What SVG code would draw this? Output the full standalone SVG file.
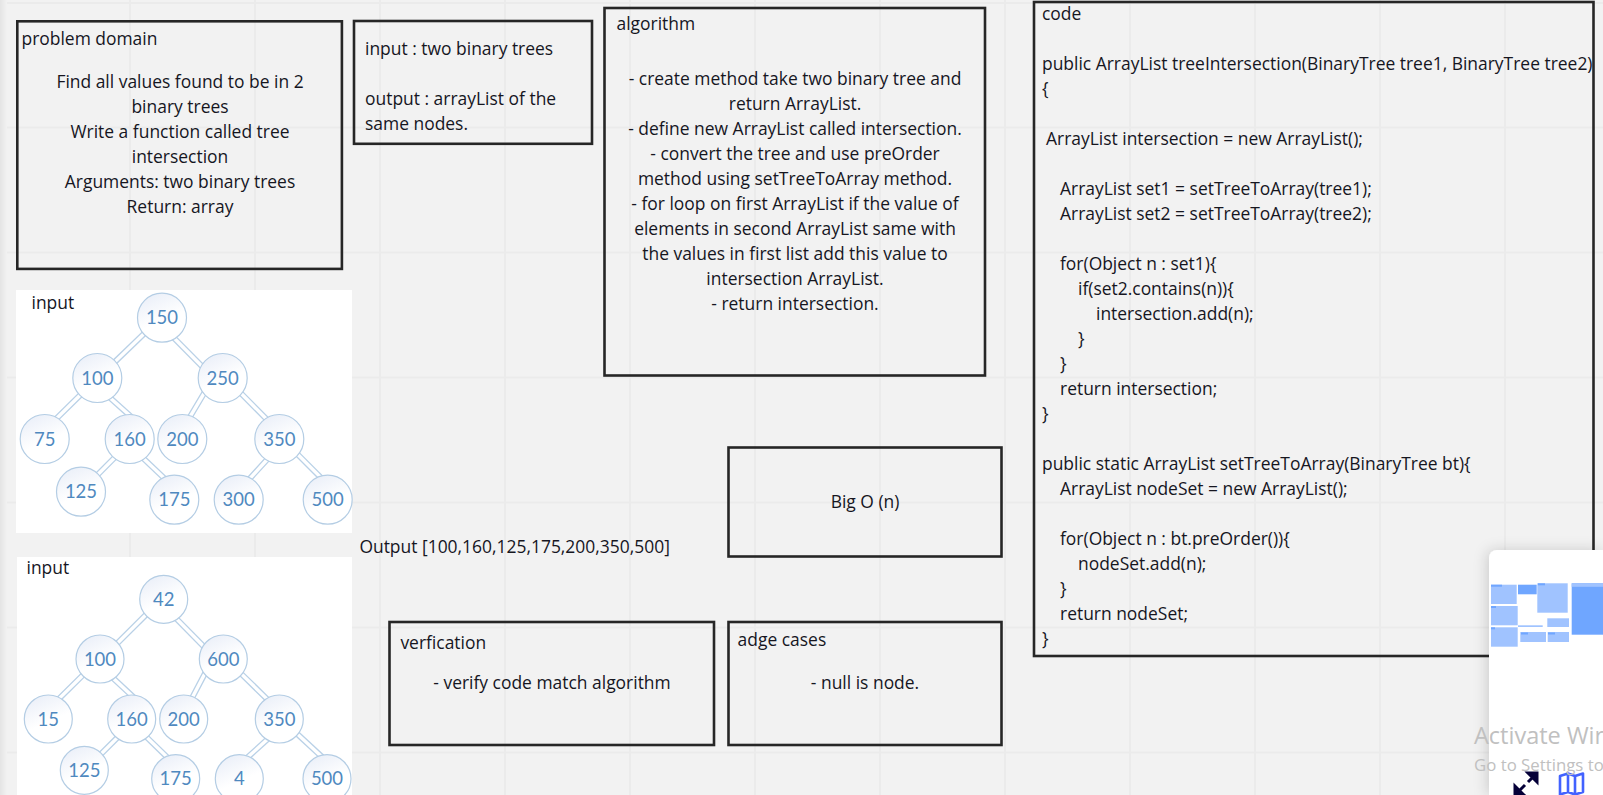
<svg xmlns="http://www.w3.org/2000/svg" width="1603" height="795" viewBox="0 0 1603 795">
<style>
text{font-family:"Open Sans","Noto Sans","Liberation Sans",sans-serif;font-size:17.45px;fill:#16161f;transform:translateY(.5px)}
.c{text-anchor:middle}
.box{fill:none;stroke:#262626;stroke-width:2.6}
.grid line{stroke:#ebebeb;stroke-width:2}
.img{fill:#fff}
.eo line,.ei line{stroke-linecap:square}
.eo{stroke:#b9d1e7;stroke-width:6}
.ei{stroke:#fff;stroke-width:3.4}
.n{fill:url(#ng);stroke:#b4cde4;stroke-width:1.2}
text.nt{font-family:Lato,"Liberation Sans",sans-serif;font-size:18.5px;fill:#4f89bf;text-anchor:middle;transform:none}
.l{fill:#a0c3ff}.d{fill:#6fa6ff}
text.w1{font-size:23.5px;fill:#c0c0c0}
text.w2{font-size:16.8px;fill:#c0c0c0}
</style>
<defs>
<linearGradient id="ng" x1="0.15" y1="0" x2="0.6" y2="1"><stop offset="0" stop-color="#e9eef8"/><stop offset="0.6" stop-color="#fff"/></linearGradient>
<linearGradient id="ls" x1="0" x2="1" y1="0" y2="0"><stop offset="0" stop-color="#e4e4e4"/><stop offset="1" stop-color="#f2f2f2"/></linearGradient>
<filter id="sh" x="-20%" y="-20%" width="140%" height="140%"><feDropShadow dx="-2" dy="0" stdDeviation="7" flood-color="#000" flood-opacity="0.16"/></filter>
</defs>
<rect width="1603" height="795" fill="#f2f2f2"/>
<g class="grid">
<line x1="5" y1="0" x2="5" y2="795"/><line x1="130" y1="0" x2="130" y2="795"/><line x1="255" y1="0" x2="255" y2="795"/><line x1="380" y1="0" x2="380" y2="795"/><line x1="505" y1="0" x2="505" y2="795"/><line x1="630" y1="0" x2="630" y2="795"/><line x1="755" y1="0" x2="755" y2="795"/><line x1="880" y1="0" x2="880" y2="795"/><line x1="1005" y1="0" x2="1005" y2="795"/><line x1="1130" y1="0" x2="1130" y2="795"/><line x1="1255" y1="0" x2="1255" y2="795"/><line x1="1380" y1="0" x2="1380" y2="795"/><line x1="1505" y1="0" x2="1505" y2="795"/>
<line x1="0" y1="3" x2="1603" y2="3"/><line x1="0" y1="127.500" x2="1603" y2="127.500"/><line x1="0" y1="252.500" x2="1603" y2="252.500"/><line x1="0" y1="377.500" x2="1603" y2="377.500"/><line x1="0" y1="502.500" x2="1603" y2="502.500"/><line x1="0" y1="627.500" x2="1603" y2="627.500"/><line x1="0" y1="752.500" x2="1603" y2="752.500"/>
</g>
<rect x="0" y="0" width="7" height="795" fill="url(#ls)"/>
<rect class="img" x="16" y="290" width="336" height="243"/>
<rect class="img" x="17" y="557" width="335" height="238"/>
<g id="connectors">
<g class="eo">
<line x1="142.700" y1="335" x2="115" y2="361.700"/><line x1="175" y1="339" x2="201.700" y2="366"/><line x1="79.300" y1="396" x2="56.700" y2="418.300"/><line x1="111.700" y1="399.300" x2="130" y2="415.700"/><line x1="204" y1="393.300" x2="190.700" y2="415.700"/><line x1="241.700" y1="394" x2="265.700" y2="418.300"/><line x1="113.300" y1="459" x2="98.300" y2="474"/><line x1="145" y1="460" x2="163.300" y2="477.300"/><line x1="266.700" y1="460" x2="250" y2="478.300"/><line x1="298.300" y1="455" x2="320" y2="476.700"/>
<line x1="145.700" y1="615" x2="118.300" y2="642.300"/><line x1="176.700" y1="619" x2="202.300" y2="645"/><line x1="82.300" y1="675.700" x2="60" y2="697.700"/><line x1="113.300" y1="678.300" x2="132.300" y2="696"/><line x1="205" y1="673.300" x2="192.700" y2="696.700"/><line x1="241.700" y1="674.300" x2="265.700" y2="697.700"/><line x1="116.700" y1="738.300" x2="101.700" y2="753.300"/><line x1="146.700" y1="737.300" x2="166.700" y2="756.700"/><line x1="266.700" y1="740" x2="248.300" y2="756.700"/><line x1="297.300" y1="734" x2="320" y2="755"/>
</g>
<g class="ei">
<line x1="142.700" y1="335" x2="115" y2="361.700"/><line x1="175" y1="339" x2="201.700" y2="366"/><line x1="79.300" y1="396" x2="56.700" y2="418.300"/><line x1="111.700" y1="399.300" x2="130" y2="415.700"/><line x1="204" y1="393.300" x2="190.700" y2="415.700"/><line x1="241.700" y1="394" x2="265.700" y2="418.300"/><line x1="113.300" y1="459" x2="98.300" y2="474"/><line x1="145" y1="460" x2="163.300" y2="477.300"/><line x1="266.700" y1="460" x2="250" y2="478.300"/><line x1="298.300" y1="455" x2="320" y2="476.700"/>
<line x1="145.700" y1="615" x2="118.300" y2="642.300"/><line x1="176.700" y1="619" x2="202.300" y2="645"/><line x1="82.300" y1="675.700" x2="60" y2="697.700"/><line x1="113.300" y1="678.300" x2="132.300" y2="696"/><line x1="205" y1="673.300" x2="192.700" y2="696.700"/><line x1="241.700" y1="674.300" x2="265.700" y2="697.700"/><line x1="116.700" y1="738.300" x2="101.700" y2="753.300"/><line x1="146.700" y1="737.300" x2="166.700" y2="756.700"/><line x1="266.700" y1="740" x2="248.300" y2="756.700"/><line x1="297.300" y1="734" x2="320" y2="755"/>
</g>
</g>
<g id="tree1">
<text x="31.500" y="308">input</text>
<g id="t1-150"><circle class="n" cx="162" cy="317.700" r="24.500"/><text class="nt" x="162" y="324">150</text></g>
<g id="t1-100"><circle class="n" cx="97.300" cy="378" r="24.500"/><text class="nt" x="97.300" y="384.500">100</text></g>
<g id="t1-250"><circle class="n" cx="222.700" cy="378" r="24.500"/><text class="nt" x="222.700" y="384.500">250</text></g>
<g id="t1-75"><circle class="n" cx="44.700" cy="439" r="24.500"/><text class="nt" x="44.700" y="445.500">75</text></g>
<g id="t1-160"><circle class="n" cx="129.700" cy="439" r="24.500"/><text class="nt" x="129.700" y="445.500">160</text></g>
<g id="t1-200"><circle class="n" cx="182.300" cy="439" r="24.500"/><text class="nt" x="182.300" y="445.500">200</text></g>
<g id="t1-350"><circle class="n" cx="279.300" cy="439" r="24.500"/><text class="nt" x="279.300" y="445.500">350</text></g>
<g id="t1-125"><circle class="n" cx="81" cy="491.700" r="24.500"/><text class="nt" x="81" y="498">125</text></g>
<g id="t1-175"><circle class="n" cx="174.300" cy="499.700" r="24.500"/><text class="nt" x="174.300" y="506">175</text></g>
<g id="t1-300"><circle class="n" cx="238.700" cy="499.700" r="24.500"/><text class="nt" x="238.700" y="506">300</text></g>
<g id="t1-500"><circle class="n" cx="327.700" cy="499.700" r="24.500"/><text class="nt" x="327.700" y="506">500</text></g>
</g>
<g id="tree2">
<text x="26.500" y="573">input</text>
<g id="t2-42"><circle class="n" cx="163.700" cy="599.300" r="24"/><text class="nt" x="163.700" y="605.700">42</text></g>
<g id="t2-100"><circle class="n" cx="100" cy="659" r="24"/><text class="nt" x="100" y="665.500">100</text></g>
<g id="t2-600"><circle class="n" cx="223.300" cy="659" r="24"/><text class="nt" x="223.300" y="665.500">600</text></g>
<g id="t2-15"><circle class="n" cx="48.300" cy="719" r="24"/><text class="nt" x="48.300" y="725.500">15</text></g>
<g id="t2-160"><circle class="n" cx="131.700" cy="719" r="24"/><text class="nt" x="131.700" y="725.500">160</text></g>
<g id="t2-200"><circle class="n" cx="183.700" cy="719" r="24"/><text class="nt" x="183.700" y="725.500">200</text></g>
<g id="t2-350"><circle class="n" cx="279.300" cy="719" r="24"/><text class="nt" x="279.300" y="725.500">350</text></g>
<g id="t2-125"><circle class="n" cx="84.300" cy="770.300" r="24"/><text class="nt" x="84.300" y="776.500">125</text></g>
<g id="t2-175"><circle class="n" cx="175.700" cy="778.700" r="24"/><text class="nt" x="175.700" y="785">175</text></g>
<g id="t2-4"><circle class="n" cx="239.300" cy="778.700" r="24"/><text class="nt" x="239.300" y="785">4</text></g>
<g id="t2-500"><circle class="n" cx="327" cy="778.700" r="24"/><text class="nt" x="327" y="785">500</text></g>
</g>
<g id="problem-domain">
<rect class="box" x="17.300" y="21.300" width="324.600" height="247.600"/>
<text x="21.500" y="44">problem domain</text>
<g class="c"><text x="180" y="87">Find all values found to be in 2</text><text x="180" y="112">binary trees</text><text x="180" y="137">Write a function called tree</text><text x="180" y="162">intersection</text><text x="180" y="187">Arguments: two binary trees</text><text x="180" y="212">Return: array</text></g>
</g>
<g id="io">
<rect class="box" x="354" y="21" width="238" height="122.800"/>
<text x="365" y="54">input : two binary trees</text><text x="365" y="104">output : arrayList of the</text><text x="365" y="129">same nodes.</text>
</g>
<g id="algorithm">
<rect class="box" x="604.500" y="8" width="380.500" height="367.500"/>
<text x="616.500" y="29">algorithm</text>
<g class="c"><text x="795" y="84">- create method take two binary tree and</text><text x="795" y="109">return ArrayList.</text><text x="795" y="134">- define new ArrayList called intersection.</text><text x="795" y="159">- convert the tree and use preOrder</text><text x="795" y="184">method using setTreeToArray method.</text><text x="795" y="209">- for loop on first ArrayList if the value of</text><text x="795" y="234">elements in second ArrayList same with</text><text x="795" y="259">the values in first list add this value to</text><text x="795" y="284">intersection ArrayList.</text><text x="795" y="309">- return intersection.</text></g>
</g>
<g id="code">
<rect class="box" x="1034" y="2" width="559.500" height="654"/>
<text x="1042" y="19">code</text>
<text x="1042" y="69">public ArrayList treeIntersection(BinaryTree tree1, BinaryTree tree2)</text>
<text x="1042" y="94">{</text>
<text x="1046" y="144">ArrayList intersection = new ArrayList();</text>
<text x="1060" y="194">ArrayList set1 = setTreeToArray(tree1);</text>
<text x="1060" y="219">ArrayList set2 = setTreeToArray(tree2);</text>
<text x="1060" y="269">for(Object n : set1){</text>
<text x="1078" y="294">if(set2.contains(n)){</text>
<text x="1096" y="319">intersection.add(n);</text>
<text x="1078" y="344">}</text>
<text x="1060" y="369">}</text>
<text x="1060" y="394">return intersection;</text>
<text x="1042" y="419">}</text>
<text x="1042" y="469">public static ArrayList setTreeToArray(BinaryTree bt){</text>
<text x="1060" y="494">ArrayList nodeSet = new ArrayList();</text>
<text x="1060" y="544">for(Object n : bt.preOrder()){</text>
<text x="1078" y="569">nodeSet.add(n);</text>
<text x="1060" y="594">}</text>
<text x="1060" y="619">return nodeSet;</text>
<text x="1042" y="644">}</text>
</g>
<g id="output"><text x="359.400" y="552">Output [100,160,125,175,200,350,500]</text></g>
<g id="big-o"><rect class="box" x="728.500" y="447.500" width="273" height="109"/><text class="c" x="865" y="507">Big O (n)</text></g>
<g id="verification"><rect class="box" x="389.500" y="622" width="324.500" height="123"/><text x="400.400" y="648">verfication</text><text class="c" x="552" y="688">- verify code match algorithm</text></g>
<g id="edge-cases"><rect class="box" x="728.500" y="622" width="273" height="123"/><text x="737.600" y="645">adge cases</text><text class="c" x="865" y="688">- null is node.</text></g>
<g id="minimap">
<path d="M1603 550H1497a8 8 0 0 0-8 8V795H1603Z" fill="#fff" filter="url(#sh)"/>
<rect class="l" x="1491" y="584.700" width="25.700" height="19.300"/><rect class="d" x="1491" y="584.700" width="11" height="2"/>
<rect class="d" x="1518" y="584.700" width="18.700" height="9.600"/>
<rect class="l" x="1537.300" y="583.300" width="30.400" height="29.400"/><rect class="d" x="1538" y="583.300" width="7" height="2"/>
<rect class="d" x="1571.700" y="583.300" width="31.300" height="51.400"/><rect class="l" x="1571.700" y="583.300" width="31.300" height="3.500"/>
<rect class="l" x="1491" y="606" width="26.700" height="19.300"/><rect class="d" x="1491" y="606" width="5" height="2"/>
<rect class="l" x="1518" y="625.300" width="24.700" height="1.700"/>
<rect class="l" x="1547.300" y="618.300" width="21.700" height="8.700"/>
<rect class="l" x="1491" y="627.300" width="26.700" height="19.400"/><rect class="d" x="1491" y="627.300" width="4" height="2"/>
<rect class="l" x="1520.300" y="632" width="25.700" height="10"/><rect class="d" x="1521" y="632.500" width="7" height="2"/>
<rect class="l" x="1547.700" y="632" width="21.300" height="10"/><rect class="d" x="1548" y="632.500" width="7" height="2"/>
<path d="M1537 773H1528L1537 782ZM1533 777L1528 782" fill="#050038" stroke="#050038" stroke-width="3"/>
<path d="M1515 795V786L1524 795ZM1519 791L1525 785" fill="#050038" stroke="#050038" stroke-width="3"/>
<path d="M1560 776L1568 773.500L1575 776L1583 773.500V792L1575 794.500L1568 792L1560 794.500ZM1568 773.500V792M1575 776V794.500" fill="none" stroke="#4262ff" stroke-width="2.600" stroke-linejoin="round"/>
</g>
<text class="w1" x="1474" y="743">Activate Wir</text>
<text class="w2" x="1474" y="770.500">Go to Settings to</text>
</svg>
